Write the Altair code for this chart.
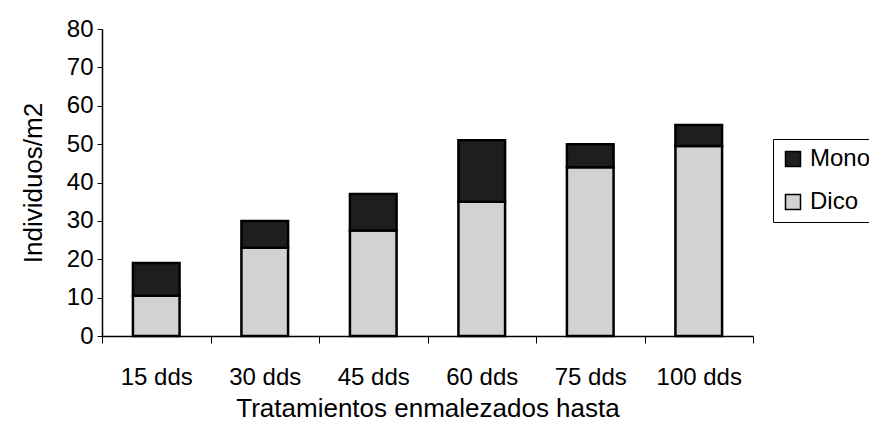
import altair as alt
import pandas as pd

categories = ["15 dds", "30 dds", "45 dds", "60 dds", "75 dds", "100 dds"]
dico = [10.5, 23, 27.5, 35, 44, 49.5]
mono = [8.5, 7, 9.5, 16, 6, 5.5]
series = ["Mono", "Dico"]
y_ticks = [0, 10, 20, 30, 40, 50, 60, 70, 80]

rows = []
for c, d, m in zip(categories, dico, mono):
    rows.append({"cat": c, "serie": "Dico", "val": d, "ord": 0})
    rows.append({"cat": c, "serie": "Mono", "val": m, "ord": 1})
df = pd.DataFrame(rows)

font = "Liberation Sans"

chart = alt.Chart(df).mark_bar(stroke="black", strokeWidth=2.5,
                               width=alt.RelativeBandSize(0.43)).encode(
    x=alt.X("cat:N", sort=categories,
            scale=alt.Scale(paddingInner=0, paddingOuter=0),
            axis=alt.Axis(title="Tratamientos enmalezados hasta", labelAngle=0,
                          labelFontSize=24, labelPadding=22, titleFontSize=26,
                          titleFontWeight="normal", titlePadding=6,
                          tickBand="extent", tickSize=7, tickColor="black",
                          domainColor="black", domainWidth=1.5, labelColor="black",
                          titleColor="black", labelFont=font, titleFont=font)),
    y=alt.Y("val:Q", stack="zero",
            scale=alt.Scale(domain=[0, 80], nice=False),
            axis=alt.Axis(title="Individuos/m2", values=y_ticks, grid=False,
                          labelFontSize=24, titleFontSize=26, titleFontWeight="normal",
                          titlePadding=20, tickSize=5, tickColor="black",
                          domainColor="black", domainWidth=1.5, labelColor="black",
                          titleColor="black", labelPadding=4,
                          labelFont=font, titleFont=font)),
    color=alt.Color("serie:N", scale=alt.Scale(domain=series, range=["#1e1e1e", "#d2d2d2"]),
                    legend=alt.Legend(title=None, orient="none", legendX=671, legendY=110,
                                      symbolType="square", symbolSize=225,
                                      symbolStrokeColor="black", symbolStrokeWidth=1.5,
                                      labelFontSize=24, labelFont=font, labelColor="black",
                                      labelOffset=5, rowPadding=19, padding=8,
                                      strokeColor="black", fillColor="white")),
    order=alt.Order("ord:Q"),
).properties(
    width=651, height=307,
    autosize=alt.AutoSizeParams(type="none"),
    padding={"left": 94, "top": 21, "right": 116, "bottom": 95},
    background="white",
).configure_view(stroke=None)

chart.save("out.html", embed_options={"renderer": "svg", "actions": False})
